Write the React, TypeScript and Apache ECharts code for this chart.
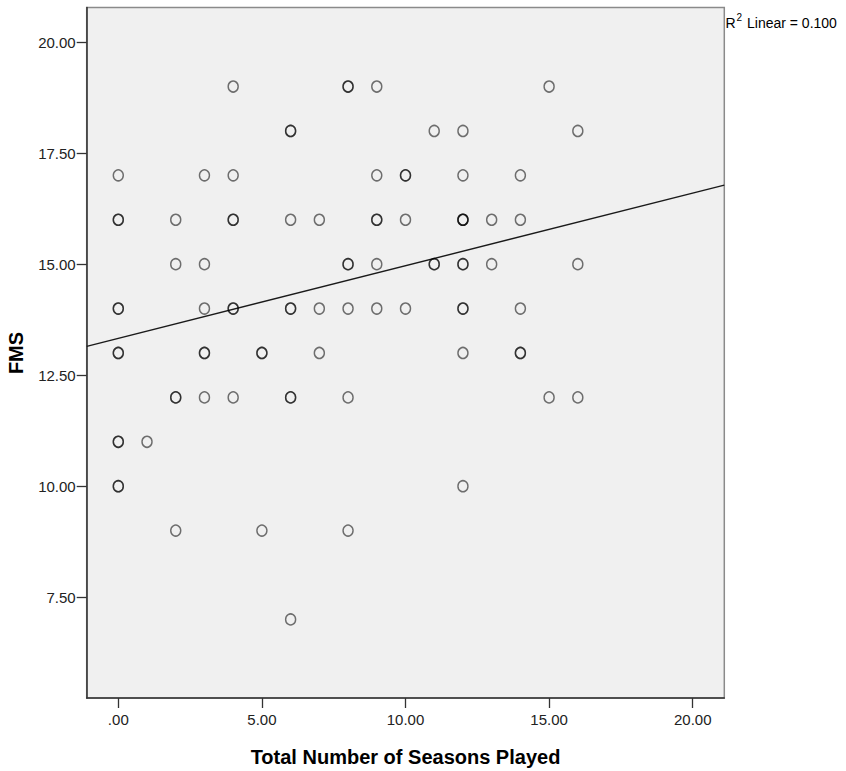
import React, { useEffect, useRef } from "react";
import * as echarts from "echarts";

// Total Number of Seasons Played (x) and FMS (y); repeated pairs are overlapping cases
const seasons: number[] = [
  0, 0, 0, 0, 0, 0, 0, 0, 0, 0, 0,
  1,
  2, 2, 2, 2, 2,
  3, 3, 3, 3, 3, 3,
  4, 4, 4, 4, 4, 4, 4,
  5, 5, 5,
  6, 6, 6, 6, 6, 6, 6, 6,
  7, 7, 7,
  8, 8, 8, 8, 8, 8, 8,
  9, 9, 9, 9, 9, 9,
  10, 10, 10, 10,
  11, 11, 11,
  12, 12, 12, 12, 12, 12, 12, 12, 12, 12, 12,
  13, 13,
  14, 14, 14, 14, 14,
  15, 15,
  16, 16, 16,
];
const fms: number[] = [
  17, 16, 16, 14, 14, 13, 13, 11, 11, 10, 10,
  11,
  16, 15, 12, 12, 9,
  17, 15, 14, 13, 13, 12,
  19, 17, 16, 16, 14, 14, 12,
  13, 13, 9,
  18, 18, 16, 14, 14, 12, 12, 7,
  16, 14, 13,
  19, 19, 15, 15, 14, 12, 9,
  19, 17, 16, 16, 15, 14,
  17, 17, 16, 14,
  18, 15, 15,
  18, 17, 16, 16, 16, 15, 15, 14, 14, 13, 10,
  16, 15,
  17, 16, 14, 13, 13,
  19, 12,
  18, 15, 12,
];

// Linear fit (R² Linear = 0.100)
const fitIntercept = 13.33;
const fitSlope = 0.1635;
const r2Label = "0.100";

const xMin = -1.1;
const xMax = 21.1;
const yMin = 5.23;
const yMax = 20.78;

const xTicks: number[] = [0, 5, 10, 15, 20];
const xTickLabels: string[] = [".00", "5.00", "10.00", "15.00", "20.00"];
const yTicks: number[] = [7.5, 10, 12.5, 15, 17.5, 20];
const yTickLabels: string[] = ["7.50", "10.00", "12.50", "15.00", "17.50", "20.00"];

const xTitle = "Total Number of Seasons Played";
const yTitle = "FMS";

const FONT = "'Liberation Sans', Arial, sans-serif";

export default function App() {
  const ref = useRef<HTMLDivElement>(null);

  useEffect(() => {
    if (!ref.current) return;
    const chart = echarts.init(ref.current, undefined, { renderer: "svg" });

    const points = seasons.map((s, i) => [s, fms[i]]);
    const fitLine = [
      [xMin, fitIntercept + fitSlope * xMin],
      [xMax, fitIntercept + fitSlope * xMax],
    ];

    const findLabel = (ticks: number[], labels: string[], v: number) => {
      const idx = ticks.findIndex((t) => Math.abs(t - v) < 1e-6);
      return idx >= 0 ? labels[idx] : "";
    };

    chart.setOption({
      animation: false,
      backgroundColor: "#ffffff",
      grid: {
        left: 86.7,
        top: 7.5,
        right: 846 - 724.3,
        bottom: 771 - 698,
        show: true,
        backgroundColor: "#f0f0f0",
        borderColor: "#8a8a8a",
        borderWidth: 1.5,
      },
      xAxis: {
        type: "value",
        min: xMin,
        max: xMax,
        splitLine: { show: false },
        axisLine: { show: true, onZero: false, lineStyle: { color: "#333333", width: 1.5 } },
        axisTick: {
          show: true,
          length: 10,
          customValues: xTicks,
          lineStyle: { color: "#333333", width: 1.3 },
        },
        axisLabel: {
          customValues: xTicks,
          margin: 14,
          color: "#222222",
          fontFamily: FONT,
          fontSize: 15,
          formatter: (v: number) => findLabel(xTicks, xTickLabels, v),
        },
      },
      yAxis: {
        type: "value",
        min: yMin,
        max: yMax,
        splitLine: { show: false },
        axisLine: { show: true, onZero: false, lineStyle: { color: "#333333", width: 1.5 } },
        axisTick: {
          show: true,
          length: 10,
          customValues: yTicks,
          lineStyle: { color: "#333333", width: 1.3 },
        },
        axisLabel: {
          customValues: yTicks,
          margin: 11,
          color: "#222222",
          fontFamily: FONT,
          fontSize: 15,
          formatter: (v: number) => findLabel(yTicks, yTickLabels, v),
        },
      },
      series: [
        {
          type: "line",
          data: fitLine,
          symbol: "none",
          silent: true,
          lineStyle: { color: "#1a1a1a", width: 1.4 },
          z: 1,
        },
        {
          type: "scatter",
          data: points,
          symbol: "circle",
          symbolSize: [10, 11],
          silent: true,
          itemStyle: {
            color: "rgba(0,0,0,0)",
            borderColor: "rgba(0,0,0,0.68)",
            borderWidth: 1.5,
          },
          z: 2,
        },
      ],
      graphic: [
        {
          type: "text",
          x: 16,
          y: 353,
          rotation: Math.PI / 2,
          style: {
            text: yTitle,
            fontFamily: FONT,
            fontWeight: "bold",
            fontSize: 20,
            fill: "#000000",
            align: "center",
            verticalAlign: "middle",
          },
        },
        {
          type: "text",
          x: 405.5,
          y: 757,
          style: {
            text: xTitle,
            fontFamily: FONT,
            fontWeight: "bold",
            fontSize: 20,
            fill: "#000000",
            align: "center",
            verticalAlign: "middle",
          },
        },
        {
          type: "text",
          x: 725.5,
          y: 22.5,
          style: {
            text: "R",
            fontFamily: FONT,
            fontSize: 14,
            fill: "#000000",
            align: "left",
            verticalAlign: "middle",
          },
        },
        {
          type: "text",
          x: 736.5,
          y: 17,
          style: {
            text: "2",
            fontFamily: FONT,
            fontSize: 10,
            fill: "#000000",
            align: "left",
            verticalAlign: "middle",
          },
        },
        {
          type: "text",
          x: 747,
          y: 22.5,
          style: {
            text: "Linear = " + r2Label,
            fontFamily: FONT,
            fontSize: 14,
            fill: "#000000",
            align: "left",
            verticalAlign: "middle",
          },
        },
      ],
    });

    return () => {
      chart.dispose();
    };
  }, []);

  return (
    <div
      ref={ref}
      style={{ position: "fixed", left: 0, top: 0, width: 846, height: 771 }}
    />
  );
}
